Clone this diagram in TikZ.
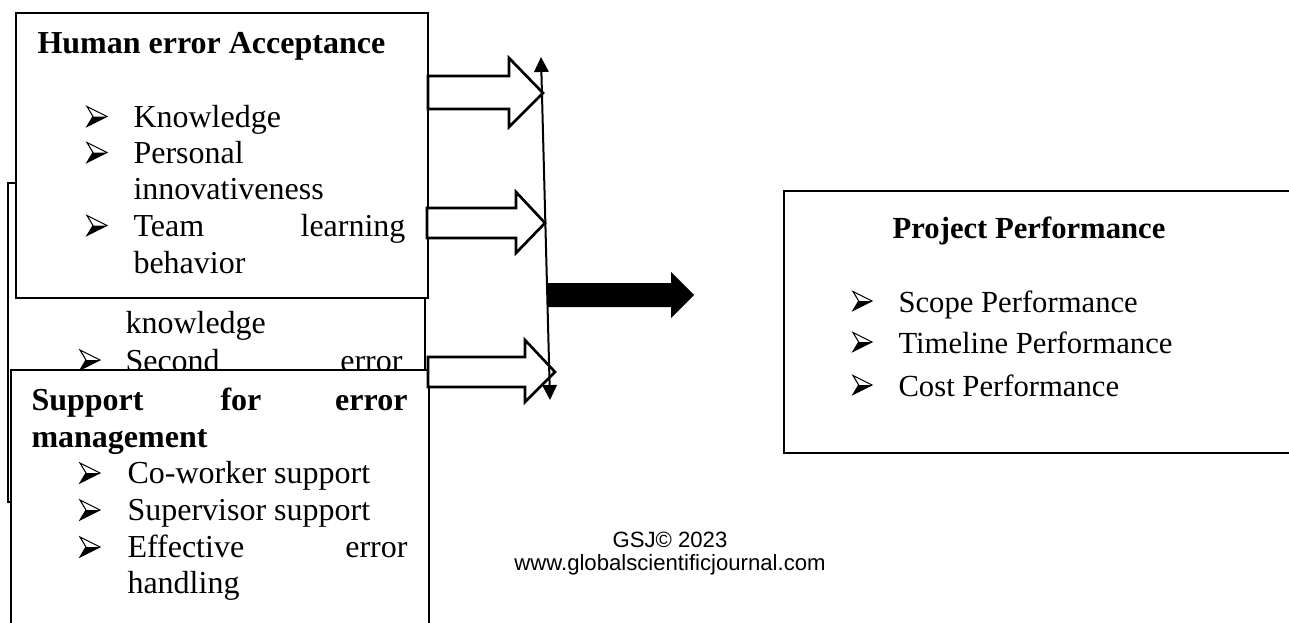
\documentclass[tikz,border=0pt]{standalone}
\usepackage{fontspec}
\setmainfont{Liberation Serif}
\newfontfamily\footfont{Liberation Sans}
\usetikzlibrary{arrows.meta}
\tikzset{
  pics/bul/.style={code={
    \filldraw[fill=white,line width=0.4pt,line join=miter] (0,-10)--(20,0)--(0,10)--(6,0)--cycle;
    \fill (6,0)--(20,0)--(0,10)--cycle;
  }}
}
\begin{document}
\begin{tikzpicture}[x=0.375pt,y=-0.375pt,
  boxline/.style={line width=1.1pt},
  wbox/.style={boxline,fill=white},
  hollowarrow/.style={line width=1pt,fill=white,line join=miter},
  txt/.style={inner sep=0pt,anchor=base west,font=\fontsize{12}{14}\selectfont},
  txtr/.style={txt,anchor=base east},
  ttl/.style={txt,font=\fontsize{12}{14}\selectfont\bfseries},
  rtxt/.style={inner sep=0pt,anchor=base west,font=\fontsize{11.5}{13.5}\selectfont},
  foot/.style={inner sep=0pt,anchor=base,font=\footfont\fontsize{8.3}{10}\selectfont}
]
\useasboundingbox (0,0) rectangle (1289,622);
\clip (0,0) rectangle (1289,622);

% middle (hidden) box
\draw[wbox] (8,183) rectangle (425,502);
\node[txt] (m1) at (125,333) {knowledge};
\pic at (80,360) {bul};
\node[txt] (m2) at (125,371) {Second};
\node[txtr] (m3) at (403,371) {error};

% top box
\draw[wbox] (16,13) rectangle (428,298);
\node[ttl] (t0) at (37,53) {Human error Acceptance};
\pic at (87,116.5) {bul};
\node[txt] (t1) at (133,127) {Knowledge};
\pic at (87,152.5) {bul};
\node[txt] (t2) at (133,163) {Personal};
\node[txt] (t3) at (133,199) {innovativeness};
\pic at (87,225.5) {bul};
\node[txt] (t4) at (133,236) {Team};
\node[txtr] (t5) at (406,236) {learning};
\node[txt] (t6) at (133,273) {behavior};

% bottom box
\draw[wbox] (11,370) rectangle (429,660);
\node[ttl] (b0) at (31,410) {Support};
\node[ttl] (b1) at (220,410) {for};
\node[ttl,anchor=base east] (b2) at (408,410) {error};
\node[ttl] (b3) at (31,447) {management};
\pic at (80,473) {bul};
\node[txt] (b4) at (127,483) {Co-worker support};
\pic at (80,510) {bul};
\node[txt] (b5) at (127,520) {Supervisor support};
\pic at (80,547) {bul};
\node[txt] (b6) at (127,557) {Effective};
\node[txtr] (b7) at (408,557) {error};
\node[txt] (b8) at (127,593) {handling};

% hollow arrows
\draw[hollowarrow] (428,76) -- (509,76) -- (509,58) -- (543,93) -- (509,127) -- (509,109) -- (428,109) -- cycle;
\draw[hollowarrow] (427,208) -- (516,208) -- (516,192) -- (545,223) -- (516,253) -- (516,238) -- (427,238) -- cycle;
\draw[hollowarrow] (428,357) -- (525,357) -- (525,340) -- (555,372) -- (525,402) -- (525,387) -- (428,387) -- cycle;

% vertical double arrow
\coordinate (vtop) at (541,57);
\coordinate (vbot) at (550,400);
\draw[line width=0.75pt,{Triangle[length=5.6pt,width=5.4pt]}-{Triangle[length=5.6pt,width=5.4pt]}] (vbot) -- (vtop);

% black arrow
\fill (548,283) -- (671,283) -- (671,272) -- (694,295) -- (671,318) -- (671,307) -- (548,307) -- cycle;

% right box
\draw[boxline] (784,191) rectangle (1300,453);
\node[inner sep=0pt,anchor=base,font=\fontsize{11.5}{13.5}\selectfont\bfseries] (r0) at (1029,238) {Project Performance};
\pic[scale=0.95] at (853,301) {bul};
\node[rtxt] (r1) at (898,312) {Scope Performance};
\pic[scale=0.95] at (853,342) {bul};
\node[rtxt] (r2) at (898,353) {Timeline Performance};
\pic[scale=0.95] at (853,385) {bul};
\node[rtxt] (r3) at (898,396) {Cost Performance};

% footer
\node[foot] (f1) at (670,547) {GSJ© 2023};
\node[foot] (f2) at (670,570) {www.globalscientificjournal.com};
\end{tikzpicture}
\end{document}
